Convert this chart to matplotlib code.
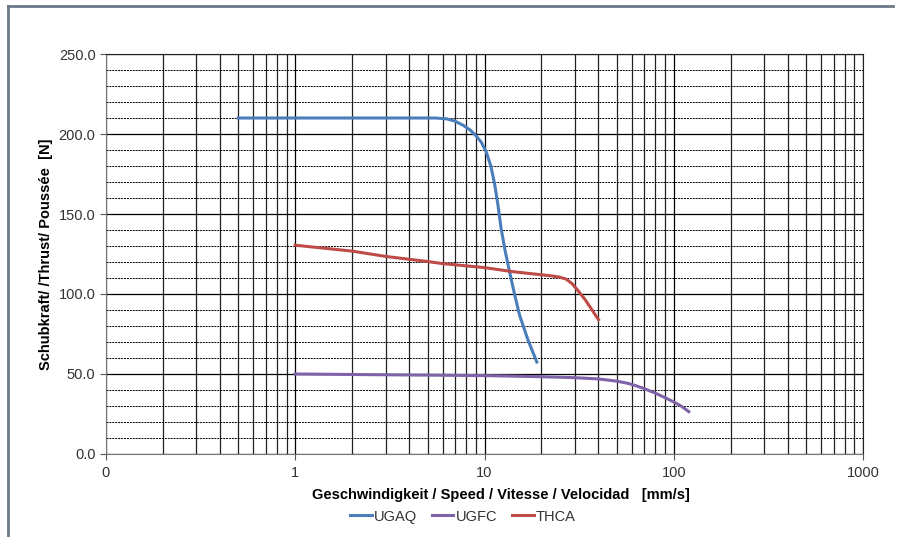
import matplotlib.pyplot as plt
import numpy as np
from matplotlib.ticker import FixedLocator, LogLocator, MultipleLocator, NullFormatter
from matplotlib.lines import Line2D

plt.rcParams['font.family'] = ['Liberation Sans', 'DejaVu Sans']

# UGAQ
ugaq_x = [0.5, 1, 2, 4, 5.5, 6.3, 7.0, 7.7, 8.4, 9.0, 9.6, 10.2, 10.8, 11.3, 11.8,
          12.2, 12.8, 13.5, 14.4, 15.3, 17.0, 18.9]
ugaq_y = [210, 210, 210, 210, 210, 209.5, 208, 205.5, 202.5, 199, 195, 189, 180, 169, 155,
          142, 128, 115, 100, 87, 71, 57.5]
# UGFC
ugfc_x = [1, 3, 10, 20, 30, 40, 50, 57, 63, 70, 80, 90, 100, 110, 120]
ugfc_y = [50, 49.5, 49, 48.3, 47.7, 46.9, 45.5, 44.2, 42.7, 40.8, 38, 35.2, 32.5, 29.8, 26.5]
# THCA
thca_x = [1, 2, 3, 5, 6, 10, 14, 20, 23, 25, 27, 29, 31, 34, 37, 40]
thca_y = [130.5, 126.8, 123.5, 120.3, 119, 116.5, 114, 112, 111.2, 110.5, 109.3, 106.5, 102.5,
          96.5, 90, 84]

names = ["UGAQ", "UGFC", "THCA"]
colors = ["#4a7ebb", "#7f63a8", "#be4b48"]

fig = plt.figure(figsize=(9.02, 5.37), dpi=100)
ax = fig.add_axes([0.1175, 0.1546, 0.8393, 0.7448])

ax.set_xscale("log")
ax.set_xlim(0.1, 1000)
ax.set_ylim(0, 250)

ax.xaxis.set_major_locator(FixedLocator([0.1, 1, 10, 100, 1000]))
ax.set_xticklabels(["0", "1", "10", "100", "1000"])
ax.xaxis.set_minor_locator(LogLocator(base=10, subs=np.arange(2, 10)))
ax.xaxis.set_minor_formatter(NullFormatter())
ax.yaxis.set_major_locator(MultipleLocator(50))
ax.yaxis.set_minor_locator(MultipleLocator(10))
ax.set_yticks(np.arange(0, 251, 50))
ax.set_yticklabels(["%.1f" % v for v in np.arange(0, 251, 50)])

ax.grid(which="major", axis="both", color="black", lw=0.9)
ax.grid(which="minor", axis="x", color="#222222", lw=0.9)
ax.grid(which="minor", axis="y", color="black", lw=0.7, ls=(0, (2, 1)))
ax.set_axisbelow(True)

ax.tick_params(which="major", length=4, width=0.8, color="#555555", labelsize=10.5,
               labelcolor="#333333")
ax.tick_params(axis="x", which="major", pad=5)
ax.tick_params(which="minor", length=0)
for s in ["left", "bottom"]:
    ax.spines[s].set_color("#777777")
ax.spines["top"].set_color("#222222")
ax.spines["right"].set_color("#222222")

ax.plot(ugaq_x, ugaq_y, color=colors[0], lw=2.2, solid_joinstyle="round")
ax.plot(ugfc_x, ugfc_y, color=colors[1], lw=2.2, solid_joinstyle="round")
ax.plot(thca_x, thca_y, color=colors[2], lw=2.2, solid_joinstyle="round")

ax.set_ylabel("Schubkraft/ /Thrust/ Poussée  [N]", fontsize=10.5, fontweight="bold",
              labelpad=4)
fig.text(0.555, 0.078, "Geschwindigkeit / Speed / Vitesse / Velocidad   [mm/s]",
         ha="center", va="center", fontsize=10.5, fontweight="bold")

handles = [Line2D([], [], color=c, lw=2.2) for c in colors]
fig.legend(handles, names, loc="center", bbox_to_anchor=(0.513, 0.038), ncol=3,
           frameon=False, fontsize=10.5, handlelength=1.5, handletextpad=0.15,
           columnspacing=1.0, labelcolor="#333333")

# chart frame (top and left only visible)
fig.add_artist(Line2D([8 / 902, 8 / 902], [0, 1 - 6 / 537], color="#6b7a87", lw=2,
                      transform=fig.transFigure))
fig.add_artist(Line2D([8 / 902, 893 / 902], [1 - 6 / 537, 1 - 6 / 537], color="#6b7a87",
                      lw=2, transform=fig.transFigure))

fig.savefig("out.png", dpi=100)
